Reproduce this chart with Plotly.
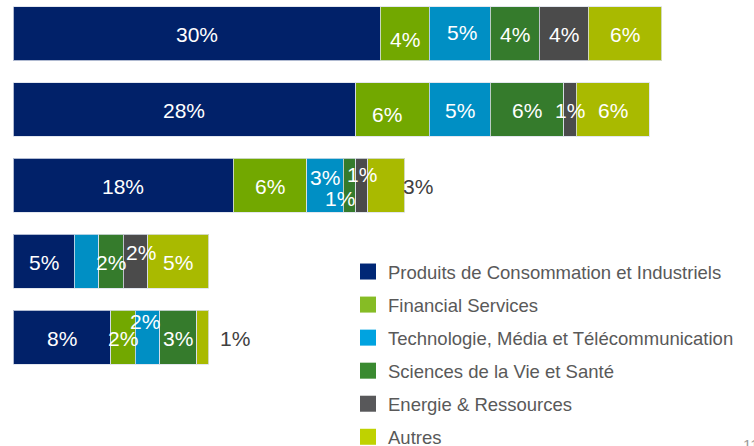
import plotly.graph_objects as go

# ---- data ----
rows = ["Ligne 1", "Ligne 2", "Ligne 3", "Ligne 4", "Ligne 5"]
series_names = [
    "Produits de Consommation et Industriels",
    "Financial Services",
    "Technologie, Média et Télécommunication",
    "Sciences de la Vie et Santé",
    "Energie & Ressources",
    "Autres",
]
pci = [30, 28, 18, 5, 8]
fs = [4, 6, 6, 0, 2]
tmt = [5, 5, 3, 2, 2]
lshc = [4, 6, 1, 2, 3]
er = [4, 1, 1, 2, 0]
autres = [6, 6, 3, 5, 1]
values = [pci, fs, tmt, lshc, er, autres]

# ---- styles ----
bar_colors = ["#012169", "#72A800", "#008FC4", "#357B2C", "#4B4B4B", "#A9BA00"]
legend_colors = ["#002776", "#86BC25", "#00A3E0", "#3A8A30", "#58585A", "#BFD200"]
FONT = "Liberation Sans, Arial, sans-serif"

# label tweaks: (row, series) -> (xshift, yshift); hidden labels; outside labels
shifts = {
    (0, 1): (0, -5), (0, 2): (2, 2),
    (1, 1): (-5, -4),
    (2, 2): (0, 9), (2, 3): (-10, -12), (2, 4): (0, 12),
    (3, 4): (6, 10),
    (4, 2): (-3, 17),
}
hidden = {(3, 2)}
outside = {(2, 5): -4, (4, 5): 9}

fig = go.Figure()
for name, vals, col in zip(series_names, values, bar_colors):
    fig.add_trace(go.Bar(
        y=rows, x=vals, orientation="h", name=name,
        marker=dict(color=col, line=dict(color="rgba(220,225,235,0.8)", width=1)),
        showlegend=False, hoverinfo="skip",
    ))

for k, (name, col) in enumerate(zip(series_names, legend_colors)):
    fig.add_trace(go.Scatter(
        x=[None], y=[None], mode="markers", name=name,
        marker=dict(symbol="square", size=16, color=col, line=dict(width=0)),
        legendgroup=f"g{k}", showlegend=True,
    ))

annotations = []
for i, row in enumerate(rows):
    cum = 0
    for j, vals in enumerate(values):
        v = vals[i]
        if v > 0 and (i, j) not in hidden:
            if (i, j) in outside:
                annotations.append(dict(
                    x=cum + v, y=row, xref="x", yref="y", text=f"{v}%",
                    showarrow=False, xanchor="left", xshift=outside[(i, j)], yshift=-1,
                    font=dict(size=21, color="#404040", family=FONT),
                ))
            else:
                dx, dy = shifts.get((i, j), (0, 0))
                annotations.append(dict(
                    x=cum + v / 2, y=row, xref="x", yref="y", text=f"{v}%",
                    showarrow=False, xanchor="center", xshift=dx, yshift=dy - 1,
                    font=dict(size=21, color="white", family=FONT),
                ))
        cum += v

annotations.append(dict(
    x=1.0, y=0.0, xref="paper", yref="paper", text="11", showarrow=False,
    xanchor="left", yanchor="top", xshift=-13, yshift=12,
    font=dict(size=15, color="#9A9A9A", family=FONT),
))

fig.update_layout(
    width=754, height=446,
    margin=dict(l=13, r=0, t=0, b=0, autoexpand=False),
    paper_bgcolor="white", plot_bgcolor="white",
    barmode="stack", bargap=0.2895,
    xaxis=dict(range=[0, 741 / 12.24], visible=False, fixedrange=True),
    yaxis=dict(range=[5.428, -0.4408], visible=False, fixedrange=True,
               categoryorder="array", categoryarray=rows),
    showlegend=True,
    legend=dict(
        x=(348 - 13) / 741, y=1 - 253 / 446, xanchor="left", yanchor="top",
        font=dict(size=18.5, color="#595959", family=FONT),
        tracegroupgap=6, bgcolor="rgba(0,0,0,0)",
    ),
    annotations=annotations,
    font=dict(family=FONT),
)

fig.write_html(
    "out.html",
    config={"displayModeBar": False},
    post_script="document.body.style.margin='0';document.body.style.overflow='hidden';",
)
